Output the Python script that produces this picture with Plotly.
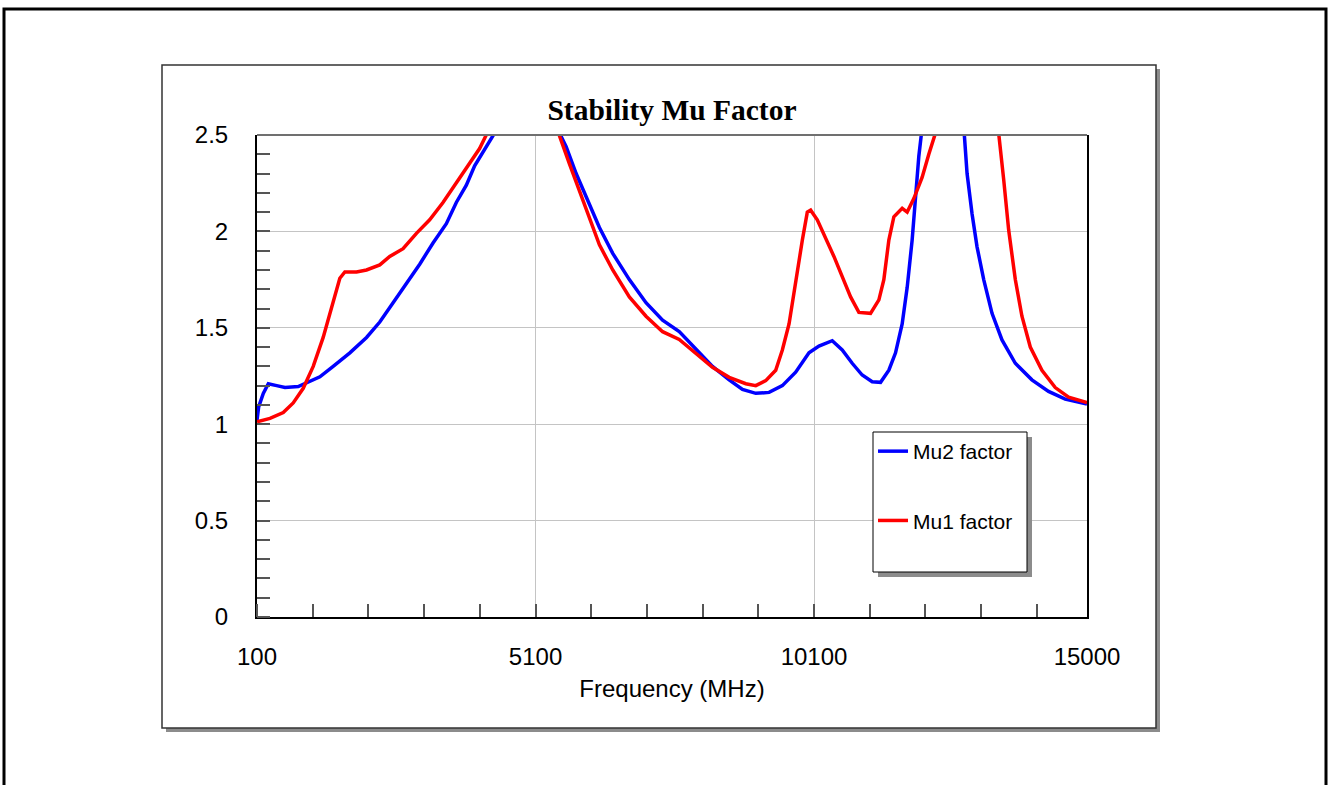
import plotly.graph_objects as go

# ---- data ----
mu2_freq = [100, 130, 213, 303, 453, 602, 840, 1020, 1229, 1467, 1767, 2066, 2304, 2543,
            2783, 3021, 3260, 3499, 3678, 3858, 4007, 4156, 4275, 4365, 4500, 4800, 5100,
            5400, 5530, 5650, 5829, 6008, 6247, 6486, 6784, 7083, 7381, 7680, 7979, 8277,
            8576, 8815, 9054, 9293, 9531, 9770, 10009, 10188, 10427, 10606, 10785, 10964,
            11144, 11294, 11443, 11563, 11682, 11772, 11861, 11921, 11981, 12029, 12100,
            12400, 12700, 12787, 12847, 12937, 13026, 13146, 13295, 13474, 13713, 14011,
            14310, 14609, 15000]
mu2_vals = [1.02, 1.09, 1.16, 1.21, 1.20, 1.19, 1.195, 1.22, 1.246, 1.30, 1.37, 1.45, 1.53,
            1.63, 1.73, 1.83, 1.94, 2.04, 2.15, 2.24, 2.34, 2.41, 2.47, 2.51, 2.75, 3.3, 3.4,
            2.9, 2.51, 2.44, 2.30, 2.18, 2.02, 1.886, 1.75, 1.63, 1.54, 1.48, 1.39, 1.30,
            1.23, 1.18, 1.16, 1.165, 1.20, 1.27, 1.37, 1.405, 1.433, 1.385, 1.316, 1.255,
            1.22, 1.217, 1.28, 1.37, 1.52, 1.71, 1.955, 2.18, 2.39, 2.51, 2.75,
            3.5, 2.9, 2.51, 2.30, 2.09, 1.92, 1.75, 1.575, 1.437, 1.316, 1.23,
            1.17, 1.13, 1.105]

mu1_freq = [100, 333, 571, 750, 930, 1109, 1288, 1467, 1587, 1677, 1886, 2066, 2304, 2483,
            2722, 2962, 3200, 3439, 3678, 3917, 4096, 4216, 4400, 4800, 5100, 5400, 5500,
            5709, 5888, 6068, 6247, 6486, 6784, 7083, 7381, 7680, 7979, 8277, 8576, 8875,
            9054, 9233, 9412, 9531, 9651, 9770, 9890, 9979, 10039, 10158, 10307, 10457,
            10606, 10756, 10905, 11114, 11264, 11353, 11443, 11533, 11682, 11772, 11891,
            12040, 12160, 12280, 12500, 12900, 13300, 13414, 13504, 13594, 13713, 13832,
            13982, 14191, 14430, 14669, 15000]
mu1_vals = [1.013, 1.03, 1.06, 1.11, 1.186, 1.30, 1.45, 1.63, 1.757, 1.79, 1.79, 1.80, 1.826,
            1.87, 1.91, 1.99, 2.06, 2.15, 2.25, 2.35, 2.43, 2.50, 2.7, 3.3, 3.4, 2.7, 2.52,
            2.35, 2.21, 2.06, 1.93, 1.80, 1.66, 1.56, 1.48, 1.44, 1.37, 1.295, 1.243, 1.21,
            1.20, 1.226, 1.28, 1.385, 1.52, 1.75, 1.955, 2.10, 2.11, 2.06, 1.97, 1.87,
            1.765, 1.66, 1.58, 1.575, 1.645, 1.75, 1.955, 2.076, 2.12, 2.10, 2.17,
            2.28, 2.40, 2.51, 2.9, 3.6, 2.9, 2.51, 2.27, 2.007, 1.75, 1.56,
            1.40, 1.28, 1.19, 1.14, 1.112]

x_tickvals = [100, 5100, 10100, 15000]
x_ticktext = ["100", "5100", "10100", "15000"]
y_tickvals = [0, 0.5, 1, 1.5, 2, 2.5]
y_ticktext = ["0", "0.5", "1", "1.5", "2", "2.5"]

# ---- layout geometry (pixels) ----
W, H = 1331, 785
L, R, T, B = 257, 1087, 135, 617


def px(x):
    return (x - L) / (R - L)


def py(y):
    return (B - y) / (B - T)


SANS = "Arial, Liberation Sans, sans-serif"
SERIF = "Times New Roman, Liberation Serif, serif"

fig = go.Figure()
fig.add_trace(go.Scatter(x=mu2_freq, y=mu2_vals, mode="lines", name="Mu2 factor",
                         legendgroup="a", line=dict(color="#0000ff", width=3.5)))
fig.add_trace(go.Scatter(x=mu1_freq, y=mu1_vals, mode="lines", name="Mu1 factor",
                         legendgroup="b", line=dict(color="#ff0000", width=3.5)))

shapes = [
    # page border
    dict(type="rect", xref="paper", yref="paper", layer="below",
         x0=px(4), x1=px(1326), y0=py(9), y1=py(830),
         line=dict(color="black", width=3), fillcolor="rgba(0,0,0,0)"),
    # chart box shadow
    dict(type="rect", xref="paper", yref="paper", layer="below",
         x0=px(166), x1=px(1160), y0=py(69), y1=py(732),
         line=dict(width=0), fillcolor="#8c8c8c"),
    # chart box
    dict(type="rect", xref="paper", yref="paper", layer="below",
         x0=px(162), x1=px(1156), y0=py(65), y1=py(728),
         line=dict(color="#333333", width=1.5), fillcolor="white"),
    # legend shadow
    dict(type="rect", xref="paper", yref="paper", layer="above",
         x0=px(878), x1=px(1032), y0=py(437), y1=py(577),
         line=dict(width=0), fillcolor="#8c8c8c"),
    # legend box
    dict(type="rect", xref="paper", yref="paper", layer="above",
         x0=px(873), x1=px(1027), y0=py(432), y1=py(572),
         line=dict(color="black", width=1), fillcolor="white"),
    # top frame line (grey)
    dict(type="line", xref="paper", yref="paper", layer="above",
         x0=0, x1=1, y0=1, y1=1, line=dict(color="#707070", width=2)),
]

fig.update_layout(
    width=W, height=H, autosize=False,
    margin=dict(l=L, r=W - R, t=T, b=H - B, pad=0),
    paper_bgcolor="white", plot_bgcolor="rgba(0,0,0,0)",
    shapes=shapes,
    title=dict(text="<b>Stability Mu Factor</b>", x=px(672), xref="paper", xanchor="center",
               y=1 - 110 / H, yref="container", yanchor="middle",
               font=dict(family=SERIF, size=29.5, color="black")),
    showlegend=True,
    legend=dict(x=px(873), y=py(431), xanchor="left", yanchor="top",
                bgcolor="rgba(0,0,0,0)", borderwidth=0,
                font=dict(family=SANS, size=21, color="black"),
                traceorder="grouped", tracegroupgap=39),
    xaxis=dict(range=[100, 15000], tickmode="array", tickvals=x_tickvals, ticktext=x_ticktext,
               ticks="", showgrid=True, gridcolor="#c4c4c4", gridwidth=1,
               zeroline=False, showline=True, linecolor="black", linewidth=2, mirror=False,
               tickfont=dict(family=SANS, size=24, color="black"), ticklabelstandoff=17,
               automargin=False,
               minor=dict(tickmode="linear", tick0=100, dtick=1000, ticks="inside",
                          ticklen=13, tickcolor="#555555", tickwidth=1.5, showgrid=False),
               title=dict(text="Frequency (MHz)", standoff=11,
                          font=dict(family=SANS, size=24, color="black"))),
    yaxis=dict(range=[0, 2.5], tickmode="array", tickvals=y_tickvals, ticktext=y_ticktext,
               ticks="", showgrid=True, gridcolor="#c4c4c4", gridwidth=1,
               zeroline=False, showline=True, linecolor="black", linewidth=2, mirror=True,
               tickfont=dict(family=SANS, size=24, color="black"), ticklabelstandoff=22,
               automargin=False,
               minor=dict(tickmode="linear", tick0=0, dtick=0.1, ticks="inside",
                          ticklen=13, tickcolor="#555555", tickwidth=1.5, showgrid=False)),
)

fig.write_html("out.html")
